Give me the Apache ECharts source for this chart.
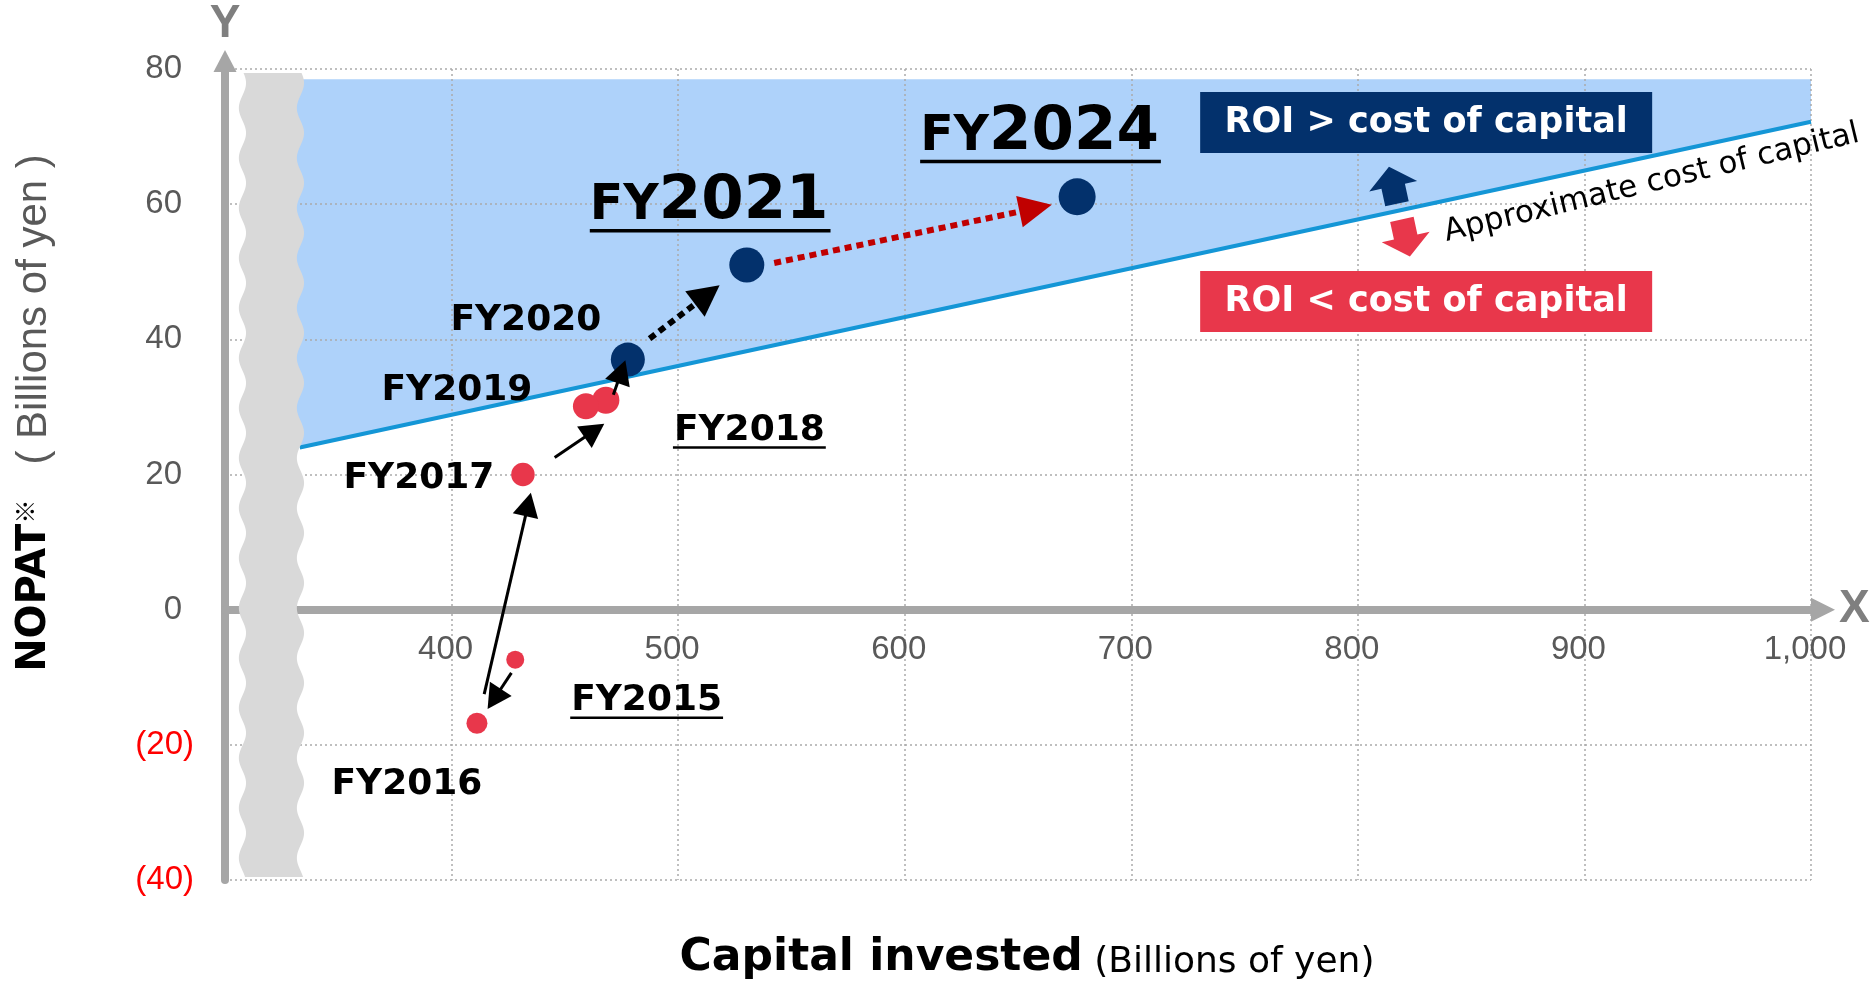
<!DOCTYPE html>
<html>
<head>
<meta charset="utf-8">
<title>Capital invested vs NOPAT</title>
<script src="https://cdn.jsdelivr.net/npm/echarts@6/dist/echarts.min.js"></script>
<style>
  html, body { margin: 0; padding: 0; background: #ffffff; }
  #chart { width: 1875px; height: 984px; }
</style>
</head>
<body>
<div id="chart"></div>
<script>
// ---- data (billions of yen) ----
const fiscalYears     = ['FY2015', 'FY2016', 'FY2017', 'FY2018', 'FY2019', 'FY2020', 'FY2021', 'FY2024'];
const capitalInvested = [428.1, 411.2, 431.5, 468.1, 459.3, 477.8, 530.3, 676.1];
const nopat           = [-7.4, -16.8, 20.0, 31.0, 30.1, 37.0, 51.0, 61.1];

// approximate cost-of-capital line, two end points
const costLineX = [333, 1000];
const costLineY = [24.0, 72.2];

// axis ticks
const xTicks = [300, 400, 500, 600, 700, 800, 900, 1000];
const yTicks = [-40, -20, 0, 20, 40, 60, 80];

// year-to-year movement arrows: start and end (capital invested, NOPAT)
const moveFrom = [[426.4, -9.35], [414.4, -12.5], [445.5, 22.5], [471.4, 31.8], [487.4, 40.1], [542.4, 51.3]];
const moveTo   = [[415.9, -14.7], [435.0, 17.3], [467.4, 27.5], [476.7, 36.9], [518.3, 48.0], [664.9, 59.9]];
const moveKind = ['solid', 'solid', 'solid', 'solid', 'dotted', 'dottedRed'];

// ---- styling ----
const NAVY = '#03316C', RED = '#E8374B', SKY = '#AED2FA', LINE_BLUE = '#1496D6';
const AXIS_GRAY = '#A6A6A6', TICK_GRAY = '#595959', GRID_GRAY = '#ABABAB';
const MEIRYO = '"DejaVu Sans", "Noto Sans CJK JP", sans-serif';
const ARIAL = '"Liberation Sans", Arial, sans-serif';
const MID = 0.346; // canvas "middle" baseline height, as a fraction of font size

const GRID = { left: 225, right: 64, top: 69, bottom: 104 };
const gridHeight = 984 - GRID.top - GRID.bottom;
// the x axis sits on the zero line, labels included
const xAxisShift = -gridHeight * (0 - yTicks[0]) / (yTicks[yTicks.length - 1] - yTicks[0]);

const markerSizes = [18, 21, 23.5, 27, 26, 34, 35, 37];
const shadeTop = 78.5;                 // upper edge of the shaded region
const breakX = [307.7, 333.3];         // axis-break band
const breakY = [-39.6, 79.4];

const labelLayout = {
  FY2015: { dx: 131.4, dy: 40.7, underline: true },
  FY2016: { dx: -70,   dy: 61 },
  FY2017: { dx: -104,  dy: 4 },
  FY2018: { dx: 143.5, dy: 30, underline: true },
  FY2019: { dx: -129,  dy: -15.5 },
  FY2020: { dx: -102,  dy: -39 },
  FY2021: { big: true, dx: -157, dy: -41.5 },
  FY2024: { big: true, dx: -157, dy: -42.5 }
};

const arrowStyles = {
  solid:     { color: '#000000', width: 3, dash: null,   head: 24, headW: 26 },
  dotted:    { color: '#000000', width: 6, dash: [7, 5], head: 31, headW: 32 },
  dottedRed: { color: '#C00000', width: 6, dash: [7, 5], head: 33, headW: 32 }
};

const notes = {
  boxes: [
    { text: 'ROI > cost of capital', x: 730.4, y: 76.6, color: NAVY },
    { text: 'ROI < cost of capital', x: 730.4, y: 50.1, color: RED }
  ],
  boxW: 452, boxH: 61,
  upArrow:   { x: 815.5, y: 62.8, color: NAVY },
  downArrow: { x: 821.2, y: 55.0, color: RED },
  costText:  { text: 'Approximate cost of capital', x: 929.7, y: 63.1, tilt: 0.024 }
};

// ---- helpers ----
const measureCtx = document.createElement('canvas').getContext('2d');
function textWidth(str, font) { measureCtx.font = font; return measureCtx.measureText(str).width; }
function costAt(x) {
  return costLineY[0] + (x - costLineX[0]) * (costLineY[1] - costLineY[0]) / (costLineX[1] - costLineX[0]);
}
function textEl(text, x, y, font, fill, align) {
  return { type: 'text', style: { text, x, y, font, fill, align, textAlign: align, verticalAlign: 'middle', textVerticalAlign: 'middle' } };
}
function lineAngle(api) {
  const a = api.coord([costLineX[0], costLineY[0]]);
  const b = api.coord([costLineX[1], costLineY[1]]);
  return Math.atan2(a[1] - b[1], b[0] - a[0]);
}

// shaded region above the cost-of-capital line
function renderShade(params, api) {
  const a = api.coord([costLineX[0], costLineY[0]]);
  const b = api.coord([costLineX[1], costLineY[1]]);
  const top = api.coord([costLineX[0], shadeTop])[1];
  const k = 10 / (b[0] - a[0]);
  const a2 = [a[0] - (b[0] - a[0]) * k, a[1] - (b[1] - a[1]) * k];
  return { type: 'polygon', shape: { points: [a2, b, [b[0], top], [a2[0], top]] }, style: { fill: SKY } };
}

// wavy axis-break band
function renderBreak(params, api) {
  const tl = api.coord([breakX[0], breakY[1]]);
  const br = api.coord([breakX[1], breakY[0]]);
  const amp = 3.6, period = 50, phase = tl[1] + 35;
  const left = [], right = [];
  for (let y = tl[1]; y <= br[1] + 0.01; y += 2) {
    const off = -amp * Math.cos(2 * Math.PI * (y - phase) / period);
    left.push([tl[0] + off, y]);
    right.push([br[0] + off, y]);
  }
  return { type: 'polygon', shape: { points: left.concat(right.reverse()) }, style: { fill: '#D9D9D9' } };
}

// movement arrows
function renderMove(params, api) {
  const i = params.dataIndex;
  const st = arrowStyles[moveKind[i]];
  const p0 = api.coord(moveFrom[i]), p1 = api.coord(moveTo[i]);
  const dx = p1[0] - p0[0], dy = p1[1] - p0[1], len = Math.hypot(dx, dy);
  const ux = dx / len, uy = dy / len, nx = -uy, ny = ux;
  const bx = p1[0] - ux * st.head, by = p1[1] - uy * st.head, hw = st.headW / 2;
  return {
    type: 'group',
    children: [
      { type: 'line', shape: { x1: p0[0], y1: p0[1], x2: bx + ux, y2: by + uy },
        style: { stroke: st.color, lineWidth: st.width, lineDash: st.dash, lineCap: 'butt' } },
      { type: 'polygon', shape: { points: [[p1[0], p1[1]], [bx + nx * hw, by + ny * hw], [bx - nx * hw, by - ny * hw]] },
        style: { fill: st.color } }
    ]
  };
}

// fiscal-year labels
function renderYearLabel(params, api) {
  const i = params.dataIndex;
  const name = fiscalYears[i];
  const lay = labelLayout[name];
  const p = api.coord([capitalInvested[i], nopat[i]]);
  const children = [];
  if (lay.big) {
    const fySize = 49, yrSize = 61;
    const fyFont = `bold ${fySize}px ${MEIRYO}`, yrFont = `bold ${yrSize}px ${MEIRYO}`;
    const ox = p[0] + lay.dx, base = p[1] + lay.dy;
    const w1 = textWidth('FY', fyFont), w2 = textWidth(name.slice(2), yrFont);
    children.push(textEl('FY', ox, base - MID * fySize, fyFont, '#000', 'left'));
    children.push(textEl(name.slice(2), ox + w1, base - MID * yrSize, yrFont, '#000', 'left'));
    children.push({ type: 'rect', shape: { x: ox, y: base + 5.5, width: w1 + w2 + 2, height: 3.5 }, style: { fill: '#000' } });
  } else {
    const size = 36, font = `bold ${size}px ${MEIRYO}`;
    const cx = p[0] + lay.dx, cy = p[1] + lay.dy;
    children.push(textEl(name, cx, cy, font, '#000', 'center'));
    if (lay.underline) {
      const w = textWidth(name, font);
      children.push({ type: 'rect', shape: { x: cx - w / 2 - 1, y: cy + 0.365 * size + 3, width: w + 2, height: 2.5 }, style: { fill: '#000' } });
    }
  }
  return { type: 'group', children };
}

// ROI boxes, up/down block arrows, cost-of-capital caption
function blockArrow(cx, cy, ang, dir, color) {
  const pts = [[0, -19], [24.5, 1], [12, 1], [12, 19], [-12, 19], [-12, 1], [-24.5, 1]]
    .map(q => [q[0], q[1] * dir]);
  return { type: 'polygon', x: cx, y: cy, rotation: ang, shape: { points: pts }, style: { fill: color } };
}
function renderNotes(params, api) {
  const ang = lineAngle(api);
  const children = [];
  notes.boxes.forEach(b => {
    const p = api.coord([b.x, b.y]);
    children.push({ type: 'rect', shape: { x: p[0], y: p[1], width: notes.boxW, height: notes.boxH }, style: { fill: b.color } });
    children.push(textEl(b.text, p[0] + notes.boxW / 2, p[1] + notes.boxH / 2, `bold 35px ${MEIRYO}`, '#FFFFFF', 'center'));
  });
  const up = api.coord([notes.upArrow.x, notes.upArrow.y]);
  const dn = api.coord([notes.downArrow.x, notes.downArrow.y]);
  children.push(blockArrow(up[0], up[1], ang, 1, notes.upArrow.color));
  children.push(blockArrow(dn[0], dn[1], ang, -1, notes.downArrow.color));
  const t = api.coord([notes.costText.x, notes.costText.y]);
  children.push({
    type: 'text', x: t[0], y: t[1], rotation: ang + notes.costText.tilt,
    style: { text: notes.costText.text, x: 0, y: 0, font: `31px ${MEIRYO}`, fill: '#000',
             align: 'center', textAlign: 'center', verticalAlign: 'middle', textVerticalAlign: 'middle' }
  });
  return { type: 'group', children };
}

// ---- chart ----
const chart = echarts.init(document.getElementById('chart'), null, { renderer: 'canvas', width: 1875, height: 984 });

const option = {
  animation: false,
  backgroundColor: '#ffffff',
  grid: { left: GRID.left, right: GRID.right, top: GRID.top, bottom: GRID.bottom, outerBoundsMode: 'none', containLabel: false },
  xAxis: {
    type: 'value', position: 'bottom', offset: xAxisShift,
    min: xTicks[0], max: xTicks[xTicks.length - 1], interval: xTicks[1] - xTicks[0],
    name: 'X', nameLocation: 'end', nameGap: 28,
    nameTextStyle: { color: '#7F7F7F', fontFamily: ARIAL, fontWeight: 'bold', fontSize: 46, verticalAlign: 'middle' },
    axisLine: { onZero: false, lineStyle: { color: AXIS_GRAY, width: 8 },
                symbol: ['none', 'triangle'], symbolSize: [24, 24], symbolOffset: [0, 12] },
    axisTick: { show: false },
    axisLabel: {
      showMinLabel: false, margin: 24, color: TICK_GRAY, fontFamily: ARIAL, fontSize: 33,
      padding: [0, 12, 0, 0],
      formatter: v => (v === xTicks[0] ? '' : v.toLocaleString('en-US'))
    },
    splitLine: { show: true, lineStyle: { color: GRID_GRAY, width: 1.5, type: [2, 3] } }
  },
  yAxis: {
    type: 'value',
    min: yTicks[0], max: yTicks[yTicks.length - 1], interval: yTicks[1] - yTicks[0],
    name: 'Y', nameLocation: 'end', nameGap: 45,
    nameTextStyle: { color: '#7F7F7F', fontFamily: ARIAL, fontWeight: 'bold', fontSize: 46, verticalAlign: 'middle', align: 'center' },
    axisLine: { onZero: false, lineStyle: { color: AXIS_GRAY, width: 8 },
                symbol: ['none', 'triangle'], symbolSize: [23, 22], symbolOffset: [0, 8] },
    axisTick: { show: false },
    axisLabel: {
      margin: 31,
      formatter: v => (v < 0 ? `{n|(${-v})}` : `{p|${v}}`),
      rich: {
        p: { color: TICK_GRAY, fontFamily: ARIAL, fontSize: 33, padding: [0, 12, 0, 0] },
        n: { color: '#FF0000', fontFamily: ARIAL, fontSize: 33 }
      }
    },
    splitLine: { show: true, lineStyle: { color: GRID_GRAY, width: 1.5, type: [2, 3] } }
  },
  graphic: [
    {
      type: 'text', x: 34, y: 413, rotation: Math.PI / 2, z: 10,
      style: {
        text: '{b|NOPAT}{m|※}{r|   ( Billions of yen )}',
        align: 'center', verticalAlign: 'middle',
        rich: {
          b: { fontFamily: MEIRYO, fontWeight: 'bold', fontSize: 40, fill: '#000', verticalAlign: 'bottom' },
          m: { fontFamily: '"Noto Sans CJK JP", sans-serif', fontSize: 24, fill: '#000', verticalAlign: 'top' },
          r: { fontFamily: ARIAL, fontSize: 42, fill: TICK_GRAY, verticalAlign: 'bottom' }
        }
      }
    },
    {
      type: 'text', x: 1027, y: 959, z: 10,
      style: {
        text: '{b|Capital invested}{r| (Billions of yen)}',
        align: 'center', verticalAlign: 'middle',
        rich: {
          b: { fontFamily: MEIRYO, fontWeight: 'bold', fontSize: 44, fill: '#000', verticalAlign: 'bottom' },
          r: { fontFamily: MEIRYO, fontSize: 36, fill: '#000', verticalAlign: 'bottom' }
        }
      }
    }
  ],
  series: [
    {
      name: 'shade', type: 'custom', z: -1, silent: true,
      data: [[costLineX[0], costLineY[0], costLineX[1], shadeTop]],
      encode: { x: [0, 2], y: [1, 3] },
      renderItem: renderShade
    },
    {
      name: 'cost of capital', type: 'line', z: 2, silent: true,
      data: costLineX.map((x, i) => [x, costLineY[i]]),
      showSymbol: false, symbol: 'none',
      lineStyle: { color: LINE_BLUE, width: 4 }
    },
    {
      name: 'axis break', type: 'custom', z: 3, silent: true,
      data: [[breakX[0], breakY[0], breakX[1], breakY[1]]],
      encode: { x: [0, 2], y: [1, 3] },
      renderItem: renderBreak
    },
    {
      name: 'NOPAT', type: 'scatter', z: 4,
      data: fiscalYears.map((fy, i) => ({
        name: fy,
        value: [capitalInvested[i], nopat[i]],
        symbolSize: markerSizes[i],
        itemStyle: { color: nopat[i] > costAt(capitalInvested[i]) ? NAVY : RED, opacity: 1 }
      }))
    },
    {
      name: 'moves', type: 'custom', z: 5, silent: true,
      data: moveFrom.map((f, i) => [f[0], f[1], moveTo[i][0], moveTo[i][1]]),
      encode: { x: [0, 2], y: [1, 3] },
      renderItem: renderMove
    },
    {
      name: 'year labels', type: 'custom', z: 6, silent: true,
      data: fiscalYears.map((fy, i) => [capitalInvested[i], nopat[i]]),
      encode: { x: 0, y: 1 },
      renderItem: renderYearLabel
    },
    {
      name: 'notes', type: 'custom', z: 6, silent: true,
      data: [[notes.costText.x, notes.costText.y]],
      encode: { x: 0, y: 1 },
      renderItem: renderNotes
    }
  ]
};

chart.setOption(option);
</script>
</body>
</html>
